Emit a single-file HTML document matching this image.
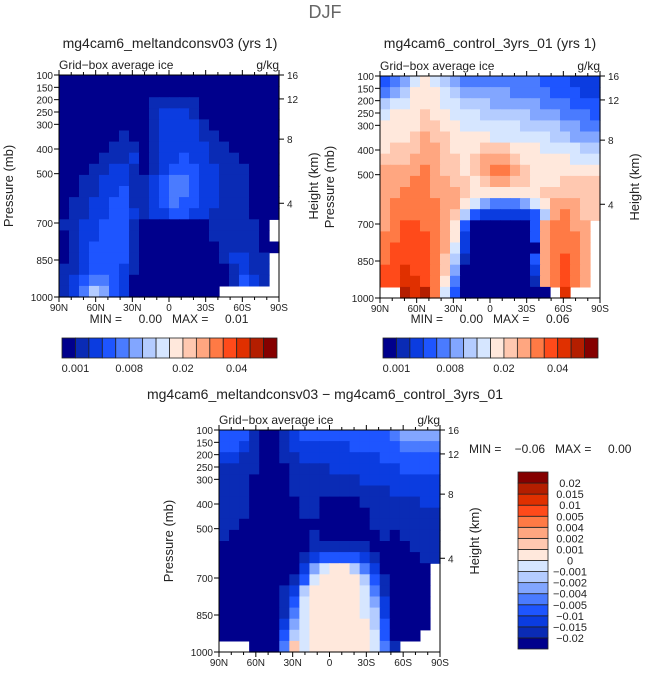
<!DOCTYPE html>
<html><head><meta charset="utf-8">
<style>
body{margin:0;background:#fff;}
svg{display:block;font-family:"Liberation Sans",sans-serif;}
text{fill:#222;white-space:pre;}
</style></head>
<body>
<svg id="fig" width="649" height="676" viewBox="0 0 649 676"></svg>
<script>
// ---- data ----
const palette=["#00008c","#0a2bb5","#0b3ce0","#1e55ff","#4a7bff","#82a6ff","#b4ccff","#d6e6ff","#ffe8dc","#ffc8b0","#ffa680","#ff7a45","#ff4a1a","#e03000","#b41e00","#850000"];
const latTicks=["90N","60N","30N","0","30S","60S","90S"];
const presTicks=[100,150,200,250,300,400,500,700,850,1000];
const heightTicks=[16,12,8,4];
const heightTickPres=[100,197,360,620];
const cbLabels12=["0.001","0.008","0.02","0.04"];
const cbLabelIdx12=[1,5,9,13];
const cbLabels3=["0.02","0.015","0.01","0.005","0.004","0.002","0.001","0","\u22120.001","\u22120.002","\u22120.004","\u22120.005","\u22120.01","\u22120.015","\u22120.02"];
// grid rows: 100 mb (top) to 1000 mb (bottom); cols 90N -> 90S; hex level index, '.' = missing
const gridMelt=[
"0000000000000000000000",
"0000000000000000000000",
"0000000001111100000000",
"0000000001222100000000",
"0000000001222210000000",
"0000001001222211000000",
"0000011101222221100000",
"0000111201223221110000",
"0001122101233322111000",
"0011222112344322111000",
"0011223112344322111000",
"0112233112343322111000",
"0112233212233221111000",
"112233310000000111110.",
"012233310000000111110.",
"0123333100000000111100",
"012333310000000012211.",
"112333210000000001211.",
"123443200000000001321.",
"1246532000000000......"];
const gridCtrl=[
"3457876544444444333222",
"4568887655555444433322",
"6778887766655555444333",
"7888988777666665554443",
"8888998877777766665544",
"8889a99888877777766555",
"8999aa9888999888777766",
"999aaa9989aaa988888777",
"aaaaba9989abba98888888",
"aaabbaa9989aa998889999",
"aabbbaaa98888888999999",
"abbbbbaa875444578aaa99",
"abbbbba9632222236aba99",
"abccbba830000003abbaa.",
"bbcccba820000003abbba.",
"bccccba720000000abbba.",
"bccccb9610000003abcba.",
"ccdccb9500000002abcba.",
"ccddcb8400000001abcba.",
"..edeb73000000000.d..."];
const gridDiff=[
"3331001233333333345555",
"3321001222222333334444",
"2211001122222222333333",
"1111000111122222223333",
"1110000111111122222222",
"1110000111111111122222",
"1110000011000011111122",
"1110000011000001111111",
"1100000000000001111111",
"1000000001000000101111",
"0000000001111110000111",
"0000000012333321000011",
"000000002578864200000.",
"000000013788886310000.",
"000000126888887410000.",
"000000137888887520000.",
"000000147888887620000.",
"000000257888888630000.",
"00000036788888873000..",
"...000497888888741...."];

const svg=document.getElementById('fig');
const NS="http://www.w3.org/2000/svg";
function el(tag,attrs,parent){const e=document.createElementNS(NS,tag);for(const k in attrs)e.setAttribute(k,attrs[k]);(parent||svg).appendChild(e);return e;}
function txt(s,x,y,size,anchor,parent,extra){const t=el('text',Object.assign({x:x,y:y,'font-size':size,'text-anchor':anchor||'start'},extra||{}),parent);t.textContent=s;return t;}

function panel(g,grid,x0,y0,w,h,name){
  const grp=el('g',{});
  
  
  const yOfP=p=>y0+(p-100)/900*h;
  const xOfLat=i=>x0+i*w/6;
  const rows=grid.length,cols=22;
  const cw=w/cols,rh=h/rows;
  for(let r=0;r<rows;r++){for(let c=0;c<cols;c++){
    const ch=grid[r][c]; if(ch===undefined||ch==='.')continue;
    const v=parseInt(ch,16);
    const cell=el('rect',{x:(x0+c*cw).toFixed(2),y:(y0+r*rh).toFixed(2),width:(cw+0.6).toFixed(2),height:(rh+0.6).toFixed(2),fill:palette[v]},grp);
    
    
  }}
  el('rect',{x:x0,y:y0,width:w,height:h,fill:'none',stroke:'#000','stroke-width':1},grp);
  for(let i=0;i<=18;i++){const x=x0+i*w/18;const L=i%3===0?5:3;
    el('line',{x1:x,y1:y0+h,x2:x,y2:y0+h+L,stroke:'#000'},grp);
    el('line',{x1:x,y1:y0,x2:x,y2:y0-L,stroke:'#000'},grp);}
  latTicks.forEach((s,i)=>{const t=txt(s,xOfLat(i),y0+h+14,10,'middle',grp);});
  presTicks.forEach(p=>{const y=yOfP(p);el('line',{x1:x0-5,y1:y,x2:x0,y2:y,stroke:'#000'},grp);
    const t=txt(String(p),x0-6,y+4,10,'end',grp);});
  heightTicks.forEach((hk,i)=>{const y=yOfP(heightTickPres[i]);el('line',{x1:x0+w,y1:y,x2:x0+w+5,y2:y,stroke:'#000'},grp);
    const t=txt(String(hk),x0+w+8,y+4,10,'start',grp);});
  const a=txt('Grid\u2212box average ice',x0,y0-6,12,'start',grp);
  const u=txt('g/kg',x0+w,y0-6,12,'end',grp);
  const py=y0+h/2;
  const yl=txt('Pressure (mb)',x0-46,py,13,'middle',grp,{transform:`rotate(-90 ${x0-46} ${py})`});
  const hl=txt('Height (km)',x0+w+39,py,13,'middle',grp,{transform:`rotate(-90 ${x0+w+39} ${py})`});
}

const dj=txt('DJF',325,18,18,'middle');dj.setAttribute('style','fill:#666');
const t1=txt('mg4cam6_meltandconsv03 (yrs 1)',170,48,14,'middle');
const t2=txt('mg4cam6_control_3yrs_01 (yrs 1)',490,48,14,'middle');
const t3=txt('mg4cam6_meltandconsv03 \u2212 mg4cam6_control_3yrs_01',325,399,14,'middle');

panel(svg,gridMelt,59,75,220,222,'melt-panel');
panel(svg,gridCtrl,380,76,220,222,'control-panel');
panel(svg,gridDiff,219,430,221,222,'diff-panel');

const m1=txt('MIN =     0.00   MAX =     0.01',169,323,12,'middle');
const m2=txt('MIN =     0.00   MAX =     0.06',490,323,12,'middle');
const m3=txt('MIN =    \u22120.06   MAX =     0.00',469,453,12,'start');

function hbar(x0,y0,w,h,name){
  const g=el('g',{});
  const bw=w/palette.length;
  palette.forEach((c,i)=>{const r=el('rect',{x:x0+i*bw,y:y0,width:bw,height:h,fill:c,stroke:'#222','stroke-width':0.8},g);});
  cbLabels12.forEach((s,i)=>{const t=txt(s,x0+cbLabelIdx12[i]*bw,y0+h+14,11,'middle',g);});
}
hbar(62,338,215,20,'panel1-colorbar');
hbar(383,338,215,20,'panel2-colorbar');

(function(){
  const x0=518,y0=472,w=30,h=177;
  const g=el('g',{});
  const bh=h/palette.length;
  palette.forEach((c,i)=>{const r=el('rect',{x:x0,y:y0+(palette.length-1-i)*bh,width:w,height:bh,fill:c,stroke:'#222','stroke-width':0.8},g);});
  cbLabels3.forEach((s,i)=>{const t=txt(s,570,y0+(i+1)*bh+4,11,'middle',g);});
})();
</script>
</body></html>
